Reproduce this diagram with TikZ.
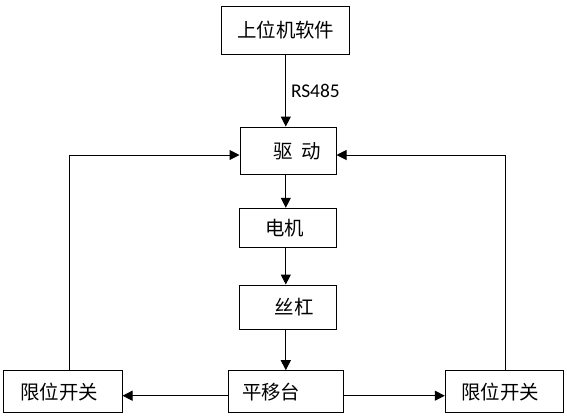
\documentclass[tikz,border=0pt]{standalone}
\usepackage{fontspec}
\setmainfont{Carlito}
\newfontfamily\cjk{Noto Sans CJK SC}
\usetikzlibrary{arrows.meta}

\begin{document}
\begin{tikzpicture}[x=1bp, y=-1bp, line width=1bp,
    box/.style={draw, inner sep=0pt, font=\cjk\fontsize{19.5}{21}\selectfont},
    arr/.style={-{Triangle[length=10bp,width=10bp]}}]
            \useasboundingbox (0,0) rectangle (567,418);

            \node[box, minimum width=128bp, minimum height=48bp] (pc) at (285.8,30) {上位机软件};
            \node[box, minimum width=96bp, minimum height=47.5bp] (drv) at (288,150.8) {\hspace*{19bp}驱\hspace{0.45em}动};
            \node[box, minimum width=97.4bp, minimum height=39bp] (mot) at (288,227.8) {电机\hspace*{7bp}};
            \node[box, minimum width=97.4bp, minimum height=44.3bp] (scr) at (288,307.2) {\hspace*{12bp}丝杠};
            \node[box, minimum width=115.3bp, minimum height=42bp] (stg) at (285.7,391.7) {平移台\hspace*{29bp}};
            \node[box, minimum width=118bp, minimum height=42bp] (limL) at (63,391.7) {限位开关\hspace*{8bp}};
            \node[box, minimum width=118bp, minimum height=42bp] (limR) at (504.3,391.7) {限位开关\hspace*{8.6bp}};

            \draw[arr] (pc.south) -- (pc.south |- drv.north);
            \node[anchor=west, inner sep=0pt, font=\fontsize{19.5}{21}\selectfont] (rs) at (290.5,91) {RS485};
            \draw[arr] (drv.south -| pc.south) -- (pc.south |- mot.north);
            \draw[arr] (mot.south -| pc.south) -- (pc.south |- scr.north);
            \draw[arr] (scr.south -| pc.south) -- (pc.south |- stg.north);

            \draw[arr] ([yshift=-4bp]stg.west) -- ([yshift=-4bp]limL.east);
            \draw[arr] ([yshift=-4bp]stg.east) -- ([yshift=-4bp]limR.west);

            \draw[arr] ([xshift=6.3bp]limL.north) |- ([yshift=-4.2bp]drv.west);
            \draw[arr] ([xshift=0.7bp]limR.north) |- ([yshift=-4.2bp]drv.east);
\end{tikzpicture}
\end{document}
